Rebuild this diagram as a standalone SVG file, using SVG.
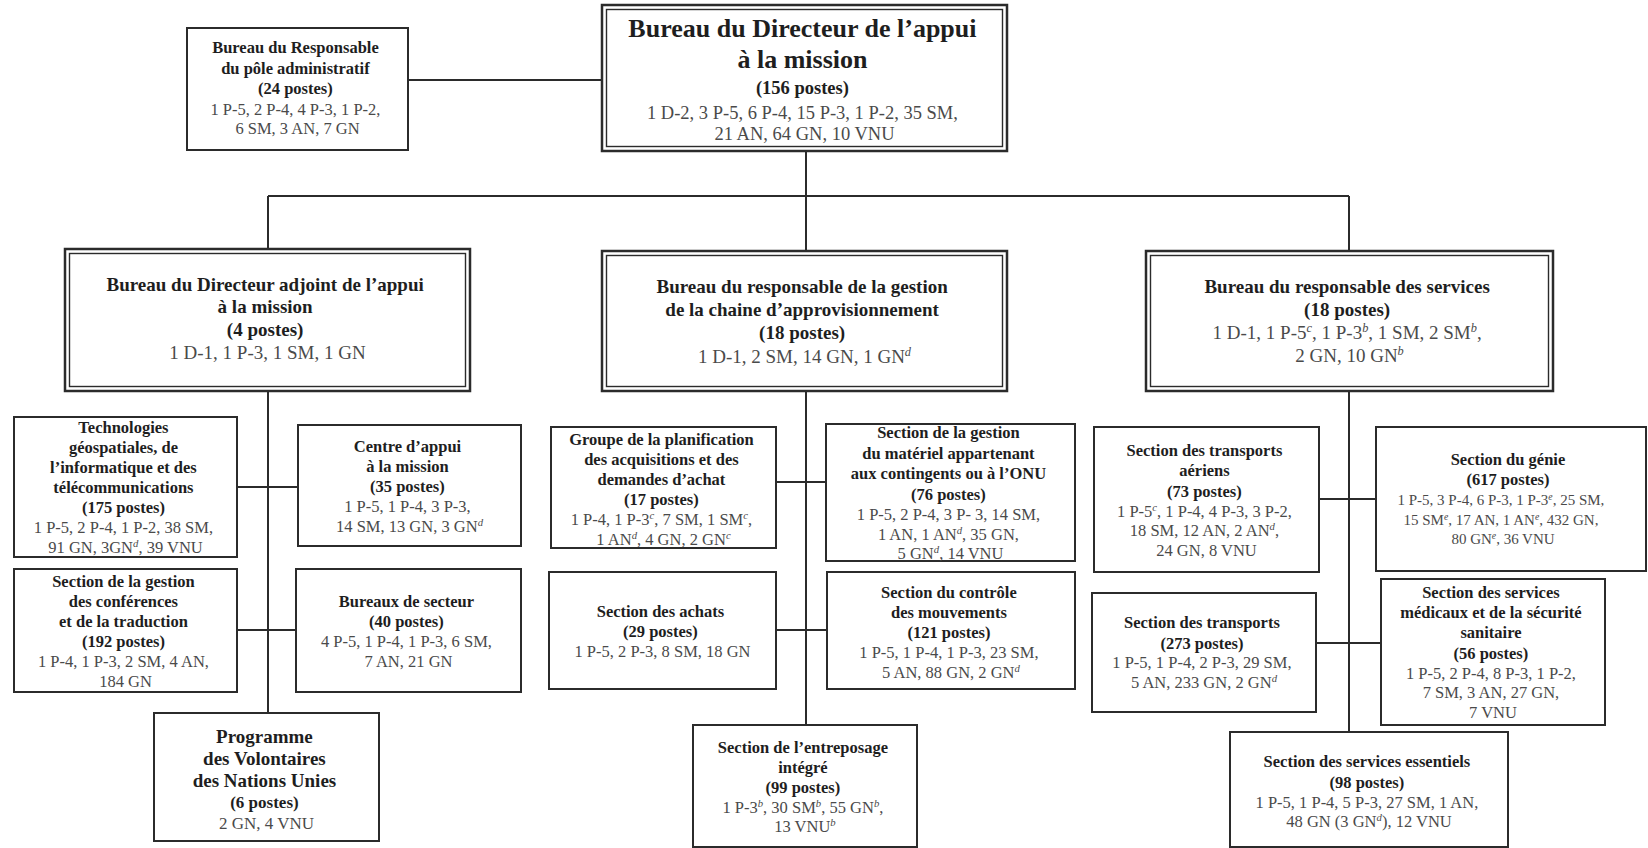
<svg xmlns="http://www.w3.org/2000/svg" width="1648" height="848" viewBox="0 0 1648 848">
  <style>
    .box { fill: #fff; stroke: #2b2b2b; stroke-width: 2; }
    .outer { fill: #fff; stroke: #2b2b2b; stroke-width: 2.5; }
    .inner { fill: none; stroke: #2b2b2b; stroke-width: 1.4; }
    .link { fill: none; stroke: #2b2b2b; stroke-width: 2; }
    text { font-family: "Liberation Serif", "Times New Roman", serif; text-anchor: middle; font-size: 16.5px; }
    .b { font-weight: bold; fill: #1e1e1e; }
    .r { fill: #4a4a4a; }
    .sup { font-size: 65%; font-style: italic; baseline-shift: super; }
    .l2 { font-size: 19px; }
    .t1 { font-size: 26px; }
  </style>

  <rect width="1648" height="848" fill="#fff"/>

  <!-- connectors -->
  <g id="connectors">
    <path class="link" d="M408 80 H602"/>
    <path class="link" d="M806 151 V196"/>
    <path class="link" d="M268 196 H1349"/>
    <path class="link" d="M268 196 V249 M806 196 V251 M1349 196 V251"/>
    <!-- left branch -->
    <path class="link" d="M268 391 V713"/>
    <path class="link" d="M237 487 H298"/>
    <path class="link" d="M237 630 H296"/>
    <!-- middle branch -->
    <path class="link" d="M806 391 V725"/>
    <path class="link" d="M776 482 H826"/>
    <path class="link" d="M776 630 H827"/>
    <!-- right branch -->
    <path class="link" d="M1349 391 V732"/>
    <path class="link" d="M1319 499 H1376"/>
    <path class="link" d="M1316 643 H1381"/>
  </g>

  <!-- top level -->
  <g id="directeur">
    <rect class="outer" x="602" y="5" width="405" height="146"/>
    <rect class="inner" x="606.5" y="9.5" width="396" height="137"/>
    <text x="804.5">
      <tspan class="b t1" x="804.5" y="37">Bureau du Directeur de l’appui</tspan>
      <tspan class="b t1" x="804.5" y="68">à la mission</tspan>
      <tspan class="b" x="804.5" y="94" style="font-size:18.5px">(156 postes)</tspan>
      <tspan class="r" x="804.5" y="119" style="font-size:18.5px">1 D-2, 3 P-5, 6 P-4, 15 P-3, 1 P-2, 35 SM,</tspan>
      <tspan class="r" x="804.5" y="140" style="font-size:18.5px">21 AN, 64 GN, 10 VNU</tspan>
    </text>
  </g>

  <g id="pole-administratif">
    <rect class="box" x="187" y="28" width="221" height="122"/>
    <text>
      <tspan class="b" x="297.5" y="53">Bureau du Responsable</tspan>
      <tspan class="b" x="297.5" y="74">du pôle administratif</tspan>
      <tspan class="b" x="297.5" y="94">(24 postes)</tspan>
      <tspan class="r" x="297.5" y="115">1 P-5, 2 P-4, 4 P-3, 1 P-2,</tspan>
      <tspan class="r" x="297.5" y="134">6 SM, 3 AN, 7 GN</tspan>
    </text>
  </g>

  <!-- second level -->
  <g id="directeur-adjoint">
    <rect class="outer" x="65" y="249" width="405" height="142"/>
    <rect class="inner" x="69.5" y="253.5" width="396" height="133"/>
    <text class="l2">
      <tspan class="b" x="267.5" y="291">Bureau du Directeur adjoint de l’appui</tspan>
      <tspan class="b" x="267.5" y="313">à la mission</tspan>
      <tspan class="b" x="267.5" y="336">(4 postes)</tspan>
      <tspan class="r" x="267.5" y="359">1 D-1, 1 P-3, 1 SM, 1 GN</tspan>
    </text>
  </g>

  <g id="chaine-approvisionnement">
    <rect class="outer" x="602" y="251" width="405" height="140"/>
    <rect class="inner" x="606.5" y="255.5" width="396" height="131"/>
    <text class="l2">
      <tspan class="b" x="804.5" y="293">Bureau du responsable de la gestion</tspan>
      <tspan class="b" x="804.5" y="316">de la chaine d’approvisionnement</tspan>
      <tspan class="b" x="804.5" y="339">(18 postes)</tspan>
      <tspan class="r" x="804.5" y="363">1 D-1, 2 SM, 14 GN, 1 GN<tspan class="sup">d</tspan></tspan>
    </text>
  </g>

  <g id="responsable-services">
    <rect class="outer" x="1146" y="251" width="407" height="140"/>
    <rect class="inner" x="1150.5" y="255.5" width="398" height="131"/>
    <text class="l2">
      <tspan class="b" x="1349.5" y="293">Bureau du responsable des services</tspan>
      <tspan class="b" x="1349.5" y="316">(18 postes)</tspan>
      <tspan class="r" x="1349.5" y="339">1 D-1, 1 P-5<tspan class="sup">c</tspan>, 1 P-3<tspan class="sup">b</tspan>, 1 SM, 2 SM<tspan class="sup">b</tspan>,</tspan>
      <tspan class="r" x="1349.5" y="362">2 GN, 10 GN<tspan class="sup">b</tspan></tspan>
    </text>
  </g>

  <!-- left branch -->
  <g id="technologies">
    <rect class="box" x="14" y="417" width="223" height="140"/>
    <text>
      <tspan class="b" x="125.5" y="433">Technologies</tspan>
      <tspan class="b" x="125.5" y="453">géospatiales, de</tspan>
      <tspan class="b" x="125.5" y="473">l’informatique et des</tspan>
      <tspan class="b" x="125.5" y="493">télécommunications</tspan>
      <tspan class="b" x="125.5" y="513">(175 postes)</tspan>
      <tspan class="r" x="125.5" y="533">1 P-5, 2 P-4, 1 P-2, 38 SM,</tspan>
      <tspan class="r" x="125.5" y="553">91 GN, 3GN<tspan class="sup">d</tspan>, 39 VNU</tspan>
    </text>
  </g>

  <g id="centre-appui">
    <rect class="box" x="298" y="425" width="223" height="121"/>
    <text>
      <tspan class="b" x="409.5" y="452">Centre d’appui</tspan>
      <tspan class="b" x="409.5" y="472">à la mission</tspan>
      <tspan class="b" x="409.5" y="492">(35 postes)</tspan>
      <tspan class="r" x="409.5" y="512">1 P-5, 1 P-4, 3 P-3,</tspan>
      <tspan class="r" x="409.5" y="532">14 SM, 13 GN, 3 GN<tspan class="sup">d</tspan></tspan>
    </text>
  </g>

  <g id="conferences">
    <rect class="box" x="14" y="569" width="223" height="123"/>
    <text>
      <tspan class="b" x="125.5" y="587">Section de la gestion</tspan>
      <tspan class="b" x="125.5" y="607">des conférences</tspan>
      <tspan class="b" x="125.5" y="627">et de la traduction</tspan>
      <tspan class="b" x="125.5" y="647">(192 postes)</tspan>
      <tspan class="r" x="125.5" y="667">1 P-4, 1 P-3, 2 SM, 4 AN,</tspan>
      <tspan class="r" x="125.5" y="687">184 GN</tspan>
    </text>
  </g>

  <g id="bureaux-secteur">
    <rect class="box" x="296" y="569" width="225" height="123"/>
    <text>
      <tspan class="b" x="408.5" y="607">Bureaux de secteur</tspan>
      <tspan class="b" x="408.5" y="627">(40 postes)</tspan>
      <tspan class="r" x="408.5" y="647">4 P-5, 1 P-4, 1 P-3, 6 SM,</tspan>
      <tspan class="r" x="408.5" y="667">7 AN, 21 GN</tspan>
    </text>
  </g>

  <g id="volontaires">
    <rect class="box" x="154" y="713" width="225" height="128"/>
    <text>
      <tspan class="b" x="266.5" y="743" style="font-size:19px">Programme</tspan>
      <tspan class="b" x="266.5" y="765" style="font-size:19px">des Volontaires</tspan>
      <tspan class="b" x="266.5" y="787" style="font-size:19px">des Nations Unies</tspan>
      <tspan class="b" x="266.5" y="808" style="font-size:17px">(6 postes)</tspan>
      <tspan class="r" x="266.5" y="829" style="font-size:17px">2 GN, 4 VNU</tspan>
    </text>
  </g>

  <!-- middle branch -->
  <g id="planification-achats">
    <rect class="box" x="551" y="427" width="225" height="121"/>
    <text>
      <tspan class="b" x="663.5" y="445">Groupe de la planification</tspan>
      <tspan class="b" x="663.5" y="465">des acquisitions et des</tspan>
      <tspan class="b" x="663.5" y="485">demandes d’achat</tspan>
      <tspan class="b" x="663.5" y="505">(17 postes)</tspan>
      <tspan class="r" x="663.5" y="525">1 P-4, 1 P-3<tspan class="sup">c</tspan>, 7 SM, 1 SM<tspan class="sup">c</tspan>,</tspan>
      <tspan class="r" x="663.5" y="545">1 AN<tspan class="sup">d</tspan>, 4 GN, 2 GN<tspan class="sup">c</tspan></tspan>
    </text>
  </g>

  <g id="materiel">
    <rect class="box" x="826" y="424" width="249" height="137"/>
    <text>
      <tspan class="b" x="950.5" y="438">Section de la gestion</tspan>
      <tspan class="b" x="950.5" y="459">du matériel appartenant</tspan>
      <tspan class="b" x="950.5" y="479">aux contingents ou à l’ONU</tspan>
      <tspan class="b" x="950.5" y="500">(76 postes)</tspan>
      <tspan class="r" x="950.5" y="520">1 P-5, 2 P-4, 3 P- 3, 14 SM,</tspan>
      <tspan class="r" x="950.5" y="540">1 AN, 1 AN<tspan class="sup">d</tspan>, 35 GN,</tspan>
      <tspan class="r" x="950.5" y="559">5 GN<tspan class="sup">d</tspan>, 14 VNU</tspan>
    </text>
  </g>

  <g id="achats">
    <rect class="box" x="549" y="572" width="227" height="117"/>
    <text>
      <tspan class="b" x="662.5" y="617">Section des achats</tspan>
      <tspan class="b" x="662.5" y="637">(29 postes)</tspan>
      <tspan class="r" x="662.5" y="657">1 P-5, 2 P-3, 8 SM, 18 GN</tspan>
    </text>
  </g>

  <g id="mouvements">
    <rect class="box" x="827" y="572" width="248" height="117"/>
    <text>
      <tspan class="b" x="951" y="598">Section du contrôle</tspan>
      <tspan class="b" x="951" y="618">des mouvements</tspan>
      <tspan class="b" x="951" y="638">(121 postes)</tspan>
      <tspan class="r" x="951" y="658">1 P-5, 1 P-4, 1 P-3, 23 SM,</tspan>
      <tspan class="r" x="951" y="678">5 AN, 88 GN, 2 GN<tspan class="sup">d</tspan></tspan>
    </text>
  </g>

  <g id="entreposage">
    <rect class="box" x="693" y="725" width="224" height="122"/>
    <text>
      <tspan class="b" x="805" y="753">Section de l’entreposage</tspan>
      <tspan class="b" x="805" y="773">intégré</tspan>
      <tspan class="b" x="805" y="793">(99 postes)</tspan>
      <tspan class="r" x="805" y="813">1 P-3<tspan class="sup">b</tspan>, 30 SM<tspan class="sup">b</tspan>, 55 GN<tspan class="sup">b</tspan>,</tspan>
      <tspan class="r" x="805" y="832">13 VNU<tspan class="sup">b</tspan></tspan>
    </text>
  </g>

  <!-- right branch -->
  <g id="transports-aeriens">
    <rect class="box" x="1094" y="427" width="225" height="145"/>
    <text>
      <tspan class="b" x="1206.5" y="456">Section des transports</tspan>
      <tspan class="b" x="1206.5" y="476">aériens</tspan>
      <tspan class="b" x="1206.5" y="497">(73 postes)</tspan>
      <tspan class="r" x="1206.5" y="517">1 P-5<tspan class="sup">c</tspan>, 1 P-4, 4 P-3, 3 P-2,</tspan>
      <tspan class="r" x="1206.5" y="536">18 SM, 12 AN, 2 AN<tspan class="sup">d</tspan>,</tspan>
      <tspan class="r" x="1206.5" y="556">24 GN, 8 VNU</tspan>
    </text>
  </g>

  <g id="genie">
    <rect class="box" x="1376" y="427" width="270" height="144"/>
    <text>
      <tspan class="b" x="1510" y="465">Section du génie</tspan>
      <tspan class="b" x="1510" y="485">(617 postes)</tspan>
      <tspan class="r" x="1503" y="505" style="font-size:15px">1 P-5, 3 P-4, 6 P-3, 1 P-3<tspan class="sup">e</tspan>, 25 SM,</tspan>
      <tspan class="r" x="1503" y="525" style="font-size:15px">15 SM<tspan class="sup">e</tspan>, 17 AN, 1 AN<tspan class="sup">e</tspan>, 432 GN,</tspan>
      <tspan class="r" x="1503" y="544" style="font-size:15px">80 GN<tspan class="sup">e</tspan>, 36 VNU</tspan>
    </text>
  </g>

  <g id="transports">
    <rect class="box" x="1092" y="593" width="224" height="119"/>
    <text>
      <tspan class="b" x="1204" y="628">Section des transports</tspan>
      <tspan class="b" x="1204" y="649">(273 postes)</tspan>
      <tspan class="r" x="1204" y="668">1 P-5, 1 P-4, 2 P-3, 29 SM,</tspan>
      <tspan class="r" x="1204" y="688">5 AN, 233 GN, 2 GN<tspan class="sup">d</tspan></tspan>
    </text>
  </g>

  <g id="services-medicaux">
    <rect class="box" x="1381" y="579" width="224" height="146"/>
    <text>
      <tspan class="b" x="1493" y="598">Section des services</tspan>
      <tspan class="b" x="1493" y="618">médicaux et de la sécurité</tspan>
      <tspan class="b" x="1493" y="638">sanitaire</tspan>
      <tspan class="b" x="1493" y="659">(56 postes)</tspan>
      <tspan class="r" x="1493" y="679">1 P-5, 2 P-4, 8 P-3, 1 P-2,</tspan>
      <tspan class="r" x="1493" y="698">7 SM, 3 AN, 27 GN,</tspan>
      <tspan class="r" x="1493" y="718">7 VNU</tspan>
    </text>
  </g>

  <g id="services-essentiels">
    <rect class="box" x="1230" y="732" width="278" height="115"/>
    <text>
      <tspan class="b" x="1369" y="767">Section des services essentiels</tspan>
      <tspan class="b" x="1369" y="788">(98 postes)</tspan>
      <tspan class="r" x="1369" y="808">1 P-5, 1 P-4, 5 P-3, 27 SM, 1 AN,</tspan>
      <tspan class="r" x="1369" y="827">48 GN (3 GN<tspan class="sup">d</tspan>), 12 VNU</tspan>
    </text>
  </g>
</svg>
